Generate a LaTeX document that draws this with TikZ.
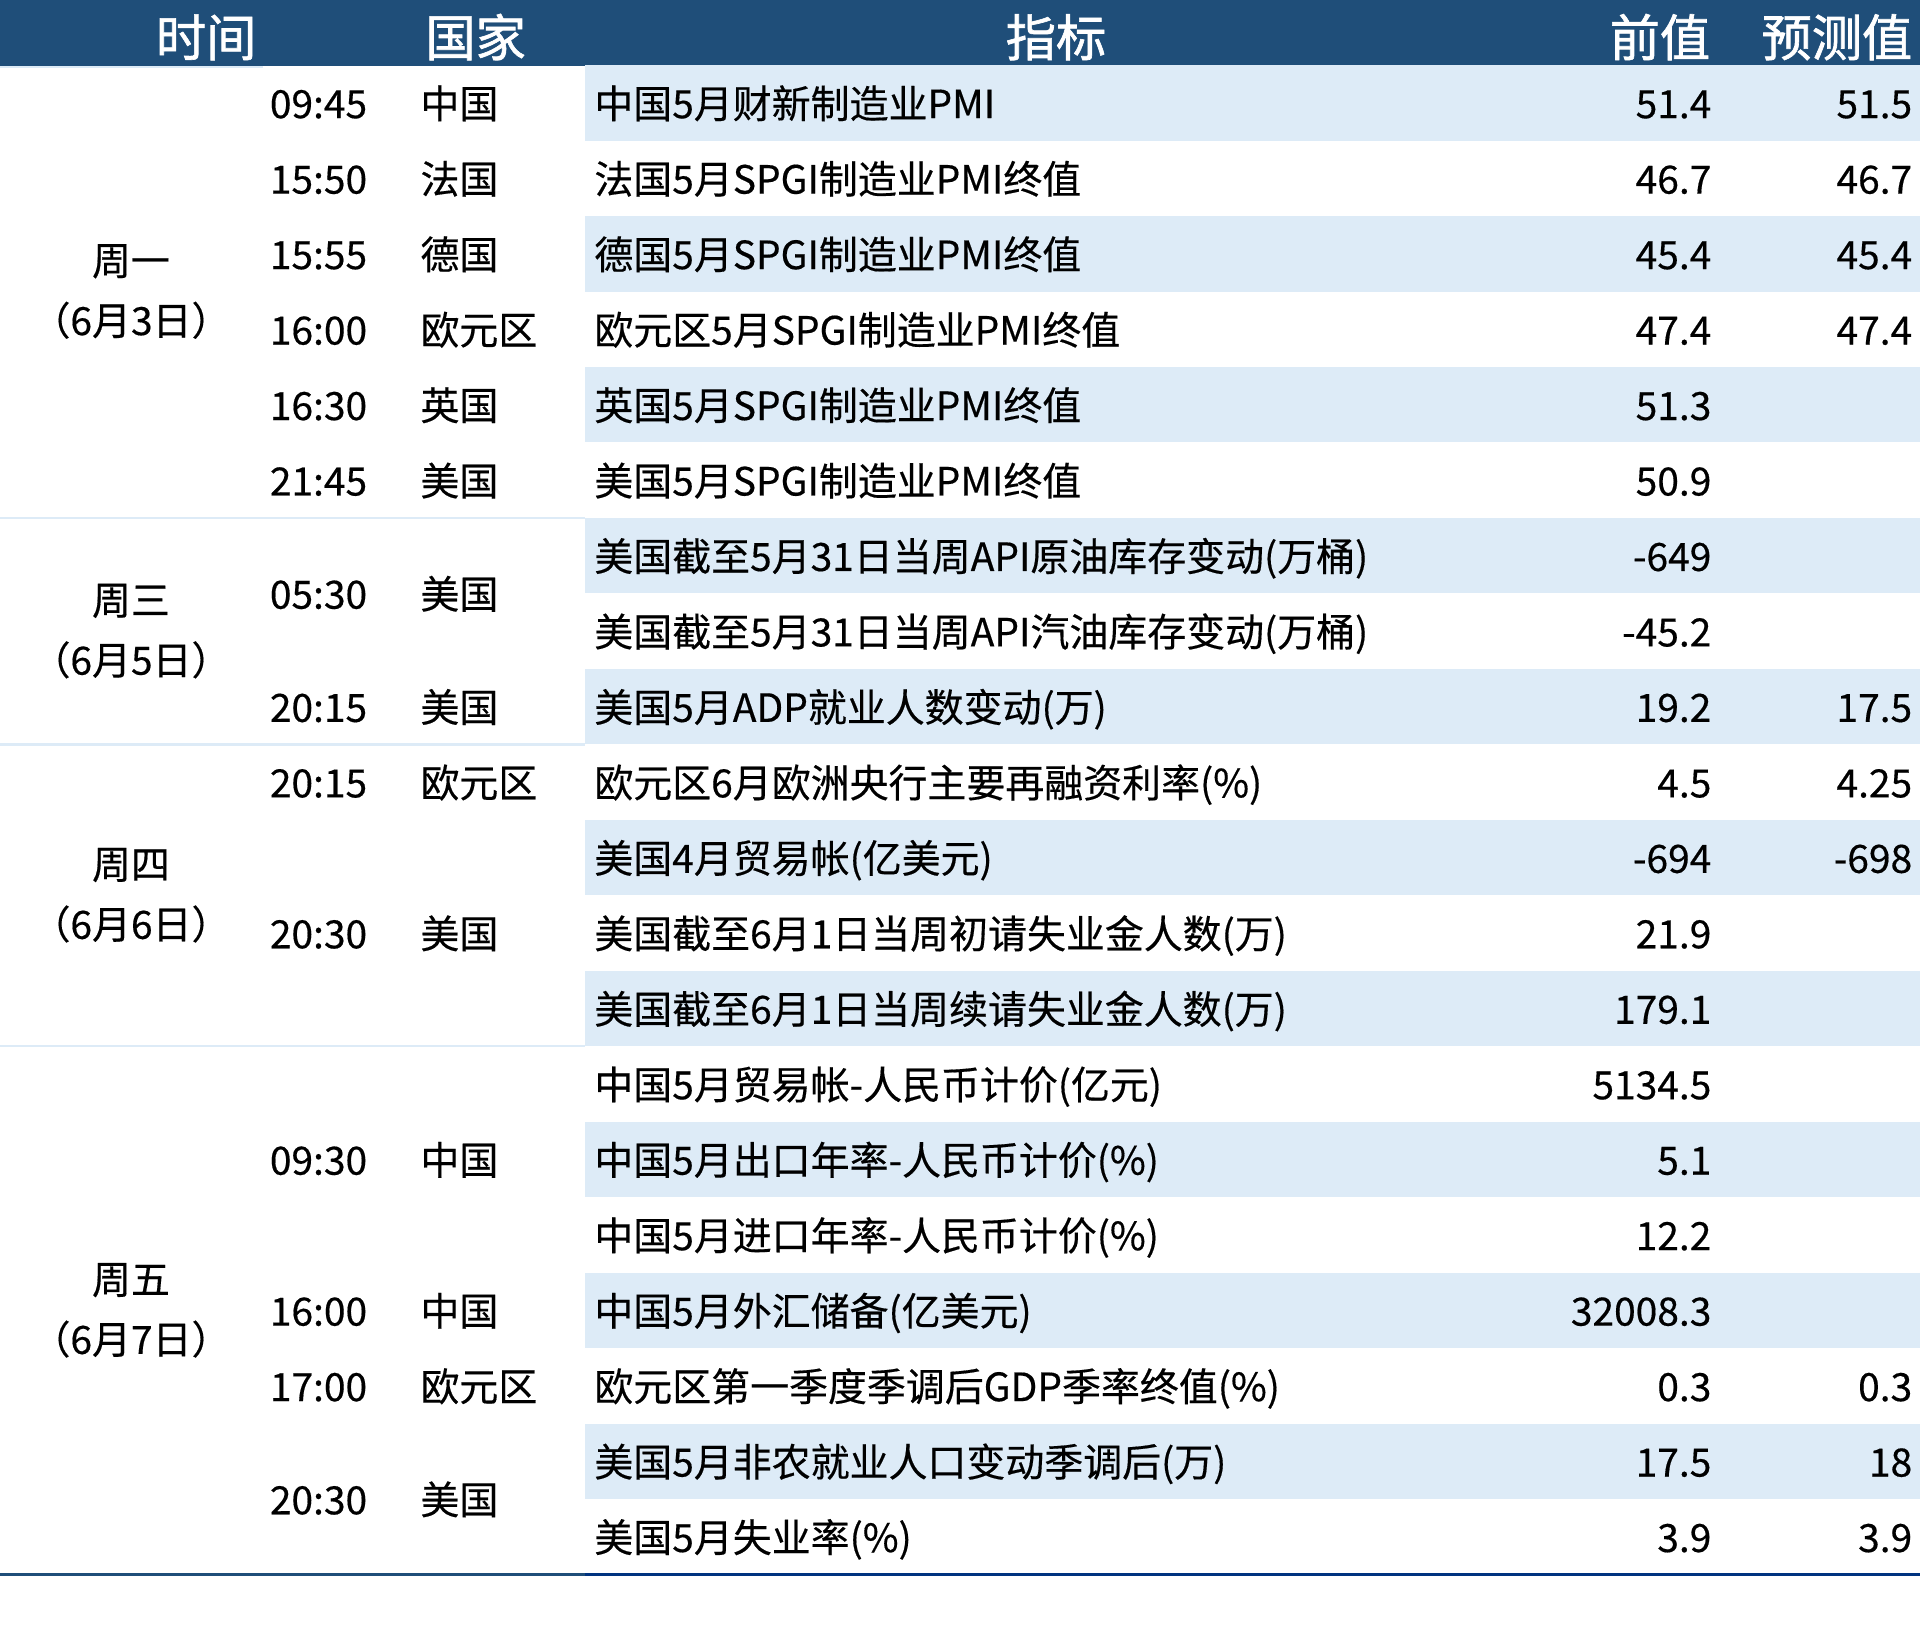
\documentclass[tikz,border=0pt]{standalone}
\usepackage{fontspec}
\setmainfont{Noto Sans CJK SC}[FakeBold=0.4]
\newfontfamily\headfont{Noto Sans CJK SC}[FakeBold=1.3]
\definecolor{headblue}{RGB}{31,78,121}
\definecolor{rowblue}{RGB}{221,235,247}
\definecolor{navyline}{RGB}{0,51,128}
\begin{document}
\begin{tikzpicture}[x=0.5pt, y=-0.5pt,
  every node/.style = {inner sep=0pt, font=\fontsize{15.9}{24.5}\selectfont},
  headtext/.style = {text=white, font=\headfont\fontsize{20.5}{24}\selectfont},
  cell/.style = {anchor=base west},
  num/.style = {anchor=base east},
  day/.style = {align=center, anchor=center}]
  \useasboundingbox (0,0) rectangle (1568,1336.9);
  \fill[headblue] (0,0) rectangle (1568,54);
  \foreach \i in {1,3,...,19}
    \fill[rowblue] (478,{53.2+61.63*(\i-1)}) rectangle (1568,{53.2+61.63*\i});
  \draw[rowblue, line width=1pt] (0,54.5) -- (215,54.5);
  \foreach \r in {6,9,13}
    \draw[rowblue, line width=1pt] (0,{53.2+61.63*\r}) -- (478,{53.2+61.63*\r});
  \draw[headblue, line width=1.5pt] (0,1285.8) -- (478,1285.8);
  \draw[navyline, line width=1.5pt] (478,1285.8) -- (1568,1285.8);

  \node[headtext, anchor=base west] (hTime) at (127,46) {时间};
  \node[headtext, anchor=base west] (hCountry) at (347,46) {国家};
  \node[headtext, anchor=base west] (hIndex) at (821,46) {指标};
  \node[headtext, anchor=base east] (hPrev) at (1397,46) {前值};
  \node[headtext, anchor=base east] (hFcst) at (1562,46) {预测值};

  \foreach \y/\dd/\dt [count=\k] in {3.5/周一/6月3日, 8/周三/6月5日,
      11.5/周四/6月6日, 17/周五/6月7日}
    \node[day] (day\k) at (107,{84+61.63*(\y-1)}) {\dd\\（\dt）};

  \foreach \y/\tm/\ct [count=\k] in {1/09:45/中国, 2/15:50/法国, 3/15:55/德国,
      4/16:00/欧元区, 5/16:30/英国, 6/21:45/美国, 7.5/05:30/美国,
      9/20:15/美国, 10/20:15/欧元区, 12/20:30/美国, 15/09:30/中国,
      17/16:00/中国, 18/17:00/欧元区, 19.5/20:30/美国} {
    \node[cell] (time\k) at (220,{96.5+61.63*(\y-1)}) {\tm};
    \node[cell] (country\k) at (343,{96.5+61.63*(\y-1)}) {\ct};
  }

  \foreach \ind/\pv/\fc [count=\i] in {
      中国5月财新制造业PMI/51.4/51.5,
      法国5月SPGI制造业PMI终值/46.7/46.7,
      德国5月SPGI制造业PMI终值/45.4/45.4,
      欧元区5月SPGI制造业PMI终值/47.4/47.4,
      英国5月SPGI制造业PMI终值/51.3/,
      美国5月SPGI制造业PMI终值/50.9/,
      美国截至5月31日当周API原油库存变动(万桶)/-649/,
      美国截至5月31日当周API汽油库存变动(万桶)/-45.2/,
      美国5月ADP就业人数变动(万)/19.2/17.5,
      欧元区6月欧洲央行主要再融资利率(\%)/4.5/4.25,
      美国4月贸易帐(亿美元)/-694/-698,
      美国截至6月1日当周初请失业金人数(万)/21.9/,
      美国截至6月1日当周续请失业金人数(万)/179.1/,
      中国5月贸易帐-人民币计价(亿元)/5134.5/,
      中国5月出口年率-人民币计价(\%)/5.1/,
      中国5月进口年率-人民币计价(\%)/12.2/,
      中国5月外汇储备(亿美元)/32008.3/,
      欧元区第一季度季调后GDP季率终值(\%)/0.3/0.3,
      美国5月非农就业人口变动季调后(万)/17.5/18,
      美国5月失业率(\%)/3.9/3.9} {
    \node[cell] (index\i) at (485,{96.5+61.63*(\i-1)}) {\ind};
    \node[num] (prev\i) at (1398,{96.5+61.63*(\i-1)}) {\pv};
    \node[num] (fcst\i) at (1562,{96.5+61.63*(\i-1)}) {\fc};
  }
\end{tikzpicture}
\end{document}
